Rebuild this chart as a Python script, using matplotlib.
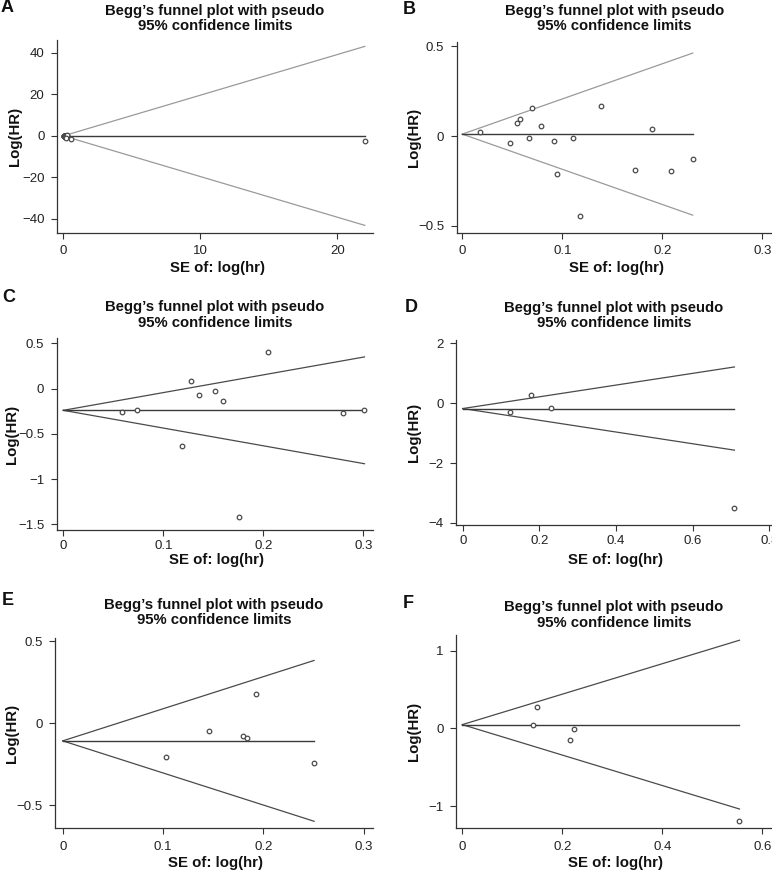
import matplotlib
matplotlib.use("Agg")
import matplotlib.pyplot as plt
import numpy as np

plt.rcParams['font.family'] = ['Liberation Sans', 'DejaVu Sans']

W, H = 772, 871

# panel A: all studies (cluster near the origin plus one huge-SE study)
a_se = [0.02, 0.04, 0.05, 0.06, 0.07, 0.08, 0.09, 0.10, 0.11, 0.12, 0.13, 0.14,
        0.15, 0.17, 0.19, 0.21, 0.23, 0.25, 0.28, 0.30, 0.18, 0.55, 22.0]
a_lhr = [0.02, -0.04, 0.07, 0.10, 0.16, 0.06, -0.03, -0.21, -0.01, -0.45, 0.08,
         0.17, -0.05, -0.19, 0.04, -0.20, -0.13, -0.24, -0.27, 0.40, -1.0, -1.3, -2.7]
a_pooled = 0.0

b_se = [0.0177, 0.048, 0.0543, 0.0577, 0.067, 0.0693, 0.079, 0.0917, 0.0947,
        0.111, 0.118, 0.1387, 0.1727, 0.1897, 0.2084, 0.2304]
b_lhr = [0.024, -0.039, 0.071, 0.097, -0.009, 0.158, 0.057, -0.030, -0.210,
         -0.009, -0.448, 0.169, -0.188, 0.041, -0.197, -0.126]
b_pooled = 0.011

c_se = [0.0586, 0.0732, 0.1185, 0.1274, 0.1354, 0.1514, 0.1594, 0.1757, 0.205,
        0.2798, 0.301]
c_lhr = [-0.256, -0.234, -0.632, 0.086, -0.068, -0.024, -0.138, -1.423, 0.407,
         -0.267, -0.241]
c_pooled = -0.241

d_se = [0.1235, 0.179, 0.2298, 0.709]
d_lhr = [-0.30, 0.287, -0.157, -3.51]
d_pooled = -0.18

e_se = [0.1031, 0.1453, 0.1793, 0.1833, 0.1923, 0.2505]
e_lhr = [-0.208, -0.049, -0.076, -0.092, 0.181, -0.243]
e_pooled = -0.108

f_se = [0.142, 0.150, 0.2147, 0.224, 0.554]
f_lhr = [0.042, 0.274, -0.146, -0.005, -1.193]
f_pooled = 0.047

panels = [
    # letter, se, lhr, pooled, box(px: l, t, r, b), xlim, ylim, xticks, yticks, funnel colour
    ("A", a_se, a_lhr, a_pooled, (57, 40, 373, 233), (-0.46, 22.6), (-46.8, 46.2),
     [0, 10, 20], [-40, -20, 0, 20, 40], "#9a9a9a"),
    ("B", b_se, b_lhr, b_pooled, (456.7, 41.7, 772, 233), (-0.0056, 0.3097), (-0.54, 0.526),
     [0, 0.1, 0.2, 0.3], [-0.5, 0, 0.5], "#9a9a9a"),
    ("C", c_se, c_lhr, c_pooled, (56.7, 338, 373, 530), (-0.0066, 0.3095), (-1.563, 0.558),
     [0, 0.1, 0.2, 0.3], [-1.5, -1, -0.5, 0, 0.5], "#4a4a4a"),
    ("D", d_se, d_lhr, d_pooled, (456, 340, 772, 525), (-0.0175, 0.807), (-4.07, 2.11),
     [0, 0.2, 0.4, 0.6, 0.8], [-4, -2, 0, 2], "#4a4a4a"),
    ("E", e_se, e_lhr, e_pooled, (55, 638, 373, 828), (-0.0077, 0.3092), (-0.64, 0.52),
     [0, 0.1, 0.2, 0.3], [-0.5, 0, 0.5], "#4a4a4a"),
    ("F", f_se, f_lhr, f_pooled, (456, 635, 772, 828), (-0.0126, 0.619), (-1.283, 1.2),
     [0, 0.2, 0.4, 0.6], [-1, 0, 1], "#4a4a4a"),
]

# text positions (px): letter (x, y), title centre y, xlabel y, ylabel x, x tick pad
text_pos = {
    "A": ((1, 8), 18.5, 268, 15, 5),
    "B": ((403, 9), 18.5, 268, 414, 5),
    "C": ((2, 298), 315, 560, 12, 3),
    "D": ((405, 307), 315.5, 560, 414, 3),
    "E": ((2, 600), 612.5, 863, 12, 5),
    "F": ((403, 604), 615, 863, 414, 5),
}


def fmt(v):
    if v == 0:
        return "0"
    return ("%g" % v).replace("-", "\u2212")


fig = plt.figure(figsize=(W / 100, H / 100), dpi=100)

for letter, se, lhr, pooled, box, xlim, ylim, xt, yt, fcol in panels:
    l, t, r, b = box
    (lx, ly), ty, xly, ylx, xpad = text_pos[letter]
    ax = fig.add_axes([l / W, 1 - b / H, (r - l) / W, (b - t) / H])
    se = np.array(se)
    smax = se.max()
    xs = np.array([0, smax])
    ax.plot(xs, pooled + 1.96 * xs, color=fcol, lw=0.9)
    ax.plot(xs, pooled - 1.96 * xs, color=fcol, lw=0.9)
    ax.plot(xs, [pooled, pooled], color="#3a3a3a", lw=1.0)
    ax.plot(se, lhr, linestyle="none", marker="o", ms=3.3, mfc="white",
            mec="#4a4a4a", mew=0.9)
    ax.set_xlim(*xlim)
    ax.set_ylim(*ylim)
    ax.set_xticks(xt)
    ax.set_xticklabels([fmt(v) for v in xt])
    ax.set_yticks(yt)
    ax.set_yticklabels([fmt(v) for v in yt])
    for s in ("top", "right"):
        ax.spines[s].set_visible(False)
    for s in ("left", "bottom"):
        ax.spines[s].set_color("#333333")
        ax.spines[s].set_linewidth(0.9)
    ax.tick_params(direction="out", length=4, width=0.8, labelsize=9.5,
                   colors="#333333", labelcolor="#222222")
    ax.tick_params(axis="x", pad=xpad)
    ax.tick_params(axis="y", pad=5)
    ax.patch.set_alpha(0)

    cx = (l + r) / 2
    fig.text(lx / W, 1 - ly / H, letter, fontsize=13, fontweight="bold",
             ha="left", va="center", color="#111111")
    fig.text(cx / W, 1 - ty / H, "Begg\u2019s funnel plot with pseudo\n95% confidence limits",
             fontsize=10.7, fontweight="bold", ha="center", va="center",
             linespacing=1.15, color="#111111")
    fig.text((cx + 2) / W, 1 - xly / H, "SE of: log(hr)", fontsize=10.8,
             fontweight="bold", ha="center", va="center", color="#111111")
    fig.text(ylx / W, 1 - ((t + b) / 2) / H, "Log(HR)", fontsize=10.8,
             fontweight="bold", ha="center", va="center", rotation=90,
             color="#111111")

fig.savefig("out.png", dpi=100)
